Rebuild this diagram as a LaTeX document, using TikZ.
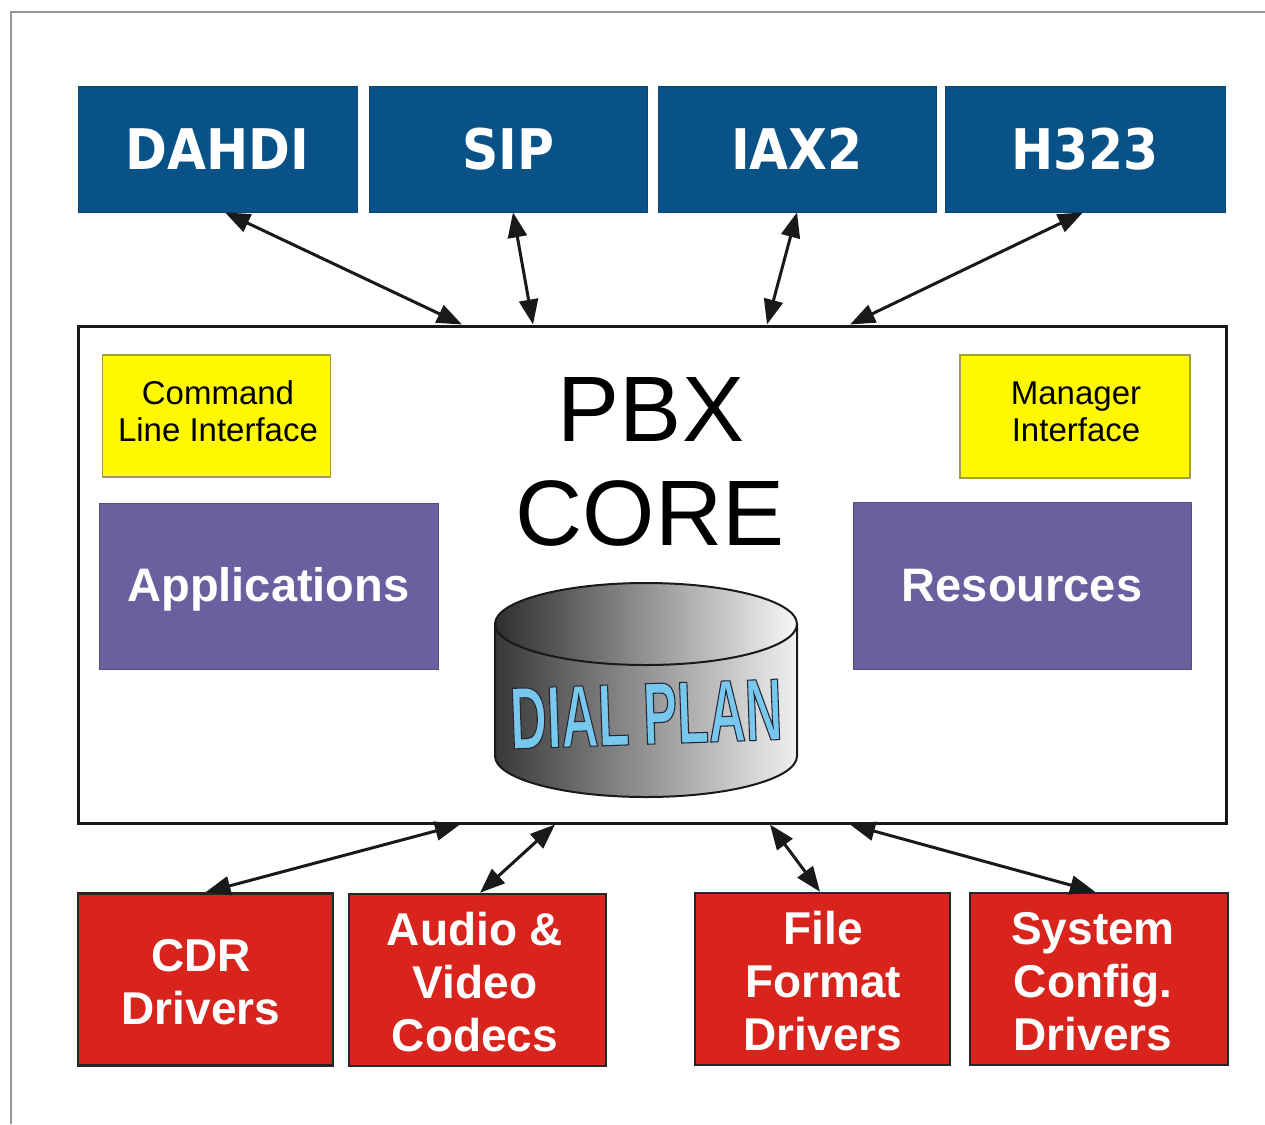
\documentclass[tikz,border=0pt]{standalone}
\usepackage{fontspec}
\setmainfont{Liberation Sans}
\newfontfamily\topfont{DejaVu Sans}
\newfontfamily\dialfont[FakeBold=1.2, FakeStretch=0.58]{Liberation Sans Bold}
\usetikzlibrary{arrows.meta,calc}
\definecolor{protoblue}{RGB}{8,82,135}
\definecolor{drvred}{RGB}{216,36,28}
\definecolor{modpurple}{RGB}{107,95,160}
\definecolor{ifyellow}{RGB}{255,248,0}
\definecolor{ifborder}{RGB}{160,155,80}
\definecolor{dialblue}{RGB}{120,200,238}
\definecolor{framegray}{RGB}{150,150,150}
\tikzset{
  protobox/.style={fill=protoblue, draw=protoblue!85!black, line width=0.8pt,
    minimum width=279pt, minimum height=126pt, inner sep=0pt, text=white,
    font=\topfont\bfseries\fontsize{56}{60}\selectfont},
  drvbox/.style={fill=drvred, draw=black!85, line width=2.5pt,
    minimum width=255pt, minimum height=172pt, inner sep=0pt},
  drvtext/.style={text=white, align=center, inner sep=0pt,
    font=\bfseries\fontsize{46}{53}\selectfont},
  modbox/.style={fill=modpurple, draw=modpurple!80!black, line width=1pt,
    minimum width=339pt, minimum height=166pt, inner sep=0pt, text=white,
    font=\bfseries\fontsize{47}{50}\selectfont},
  ifbox/.style={fill=ifyellow, draw=ifborder, line width=1.5pt,
    minimum width=228pt, minimum height=122pt, inner sep=0pt},
  iftext/.style={inner sep=0pt, text=black, align=center, font=\fontsize{33}{37}\selectfont},
  corebox/.style={draw=black!90, line width=3pt, fill=white,
    minimum width=1148pt, minimum height=497pt, inner sep=0pt},
  link/.style={line width=3pt, draw=black!90,
    {Triangle[length=25pt,width=19pt]}-{Triangle[length=25pt,width=19pt]}}
}
\begin{document}
\begin{tikzpicture}[x=1pt,y=-1pt]
\useasboundingbox[fill=white] (0,0) rectangle (1265,1124);
% outer frame (top and left edges)
\draw[framegray, line width=1.5pt] (11,1124) -- (11,12) -- (1265,12);

% protocol channels
\node[protobox] (dahdi) at (217.5,149) {\scalebox{0.9}[1]{DAHDI}};
\node[protobox, minimum width=278pt] (sip) at (508,149) {\scalebox{0.9}[1]{SIP}};
\node[protobox, minimum width=278pt] (iax) at (797,149) {\scalebox{0.9}[1]{IAX2}};
\node[protobox, minimum width=280pt] (h323) at (1085,149) {\scalebox{0.9}[1]{H323}};

% core
\node[corebox] (core) at (652,574.5) {};
\node[font=\fontsize{93}{100}\selectfont, align=center, inner sep=0pt] (pbx) at (651,410) {PBX};
\node[font=\fontsize{93}{100}\selectfont, align=center, inner sep=0pt] (coret) at (650,513) {CORE};

\node[ifbox] (cli) at (216.5,416) {};
\node[iftext] (clit) at (218,411) {Command\\Line Interface};
\node[ifbox, minimum width=230pt, minimum height=123pt] (mgr) at (1075,416.5) {};
\node[iftext] (mgrt) at (1076,412) {Manager\\Interface};

\node[modbox] (apps) at (268.5,586) {};
\node[text=white, font=\bfseries\fontsize{47}{50}\selectfont, inner sep=0pt] (appst) at (268.5,589) {Applications};
\node[modbox, minimum width=338pt, minimum height=167pt] (res) at (1022,585.5) {Resources};

% dial plan cylinder
\path[shading=axis, left color=black!78, right color=black!6, shading angle=90]
  (495,624) -- (495,756) arc[start angle=180, end angle=360, x radius=151pt, y radius=41pt]
  -- (797,624) -- cycle;
\draw[line width=2pt, black!90]
  (495,624) -- (495,756) arc[start angle=180, end angle=360, x radius=151pt, y radius=41pt]
  -- (797,624);
\draw[line width=2pt, black!90, shading=axis, left color=black!82, right color=black!3, shading angle=90]
  (646,624) ellipse[x radius=151pt, y radius=41pt];
\node[font=\dialfont\fontsize{88}{90}\selectfont, inner sep=0pt, rotate=2]
  (dial) at (646,714) {\color{dialblue}\special{pdf:code 0.15 0.15 0.2 RG}DIAL PLAN};

% drivers
\node[drvbox] (cdr) at (205.5,979.5) {};
\node[drvtext] (cdrt) at (201,982) {CDR\\Drivers};
\node[drvbox, minimum width=257pt] (codec) at (477.5,980) {};
\node[drvtext] (codect) at (475,982) {Audio \&\\Video\\Codecs};
\node[drvbox] (file) at (822.5,979) {};
\node[drvtext] (filet) at (823,981) {File\\Format\\Drivers};
\node[drvbox, minimum width=258pt] (sys) at (1099,979) {};
\node[drvtext] (syst) at (1093,982) {System\\Config.\\Drivers};

% connectors
\draw[link] ([xshift=7.5pt]dahdi.south) -- ([xshift=-190pt]core.north);
\draw[link] ([xshift=5pt]sip.south) -- ([xshift=-119pt]core.north);
\draw[link] ([xshift=0pt]iax.south) -- ([xshift=115pt]core.north);
\draw[link] ([xshift=-2pt]h323.south) -- ([xshift=198pt]core.north);

\draw[link] ([xshift=-192pt]core.south) -- ([xshift=0pt]cdr.north);
\draw[link] ([xshift=-97pt]core.south) -- ([xshift=2.5pt]codec.north);
\draw[link] ([xshift=118pt]core.south) -- ([xshift=-2.5pt]file.north);
\draw[link] ([xshift=198pt]core.south) -- ([xshift=-4pt]sys.north);
\end{tikzpicture}
\end{document}
